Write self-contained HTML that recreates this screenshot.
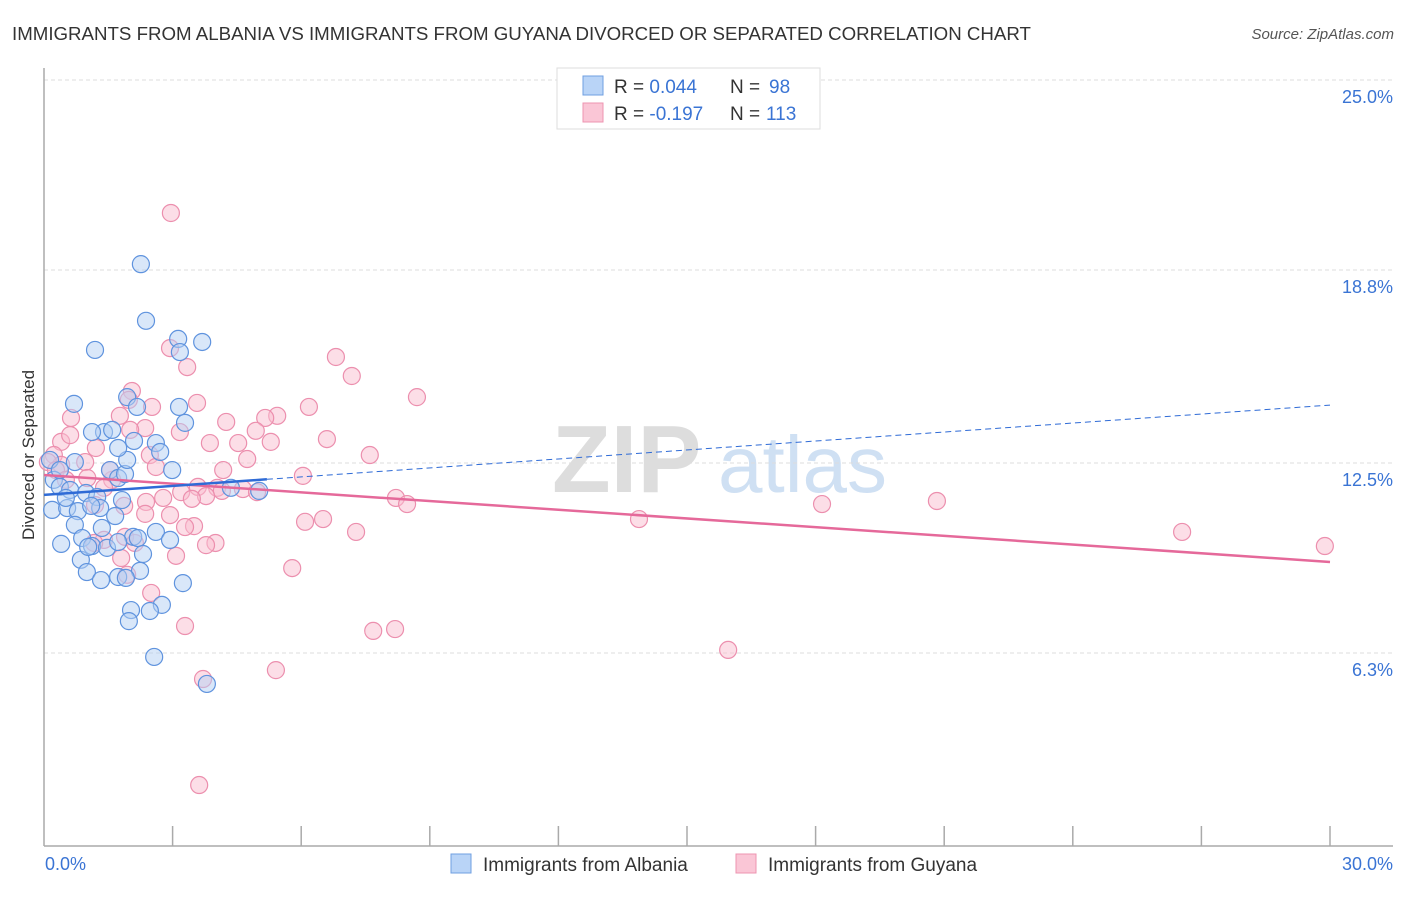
<!DOCTYPE html>
<html><head><meta charset="utf-8">
<style>
body{margin:0;background:#fff;font-family:"Liberation Sans",sans-serif;}
svg text{font-family:"Liberation Sans",sans-serif;}
</style></head>
<body>
<svg id="chart" width="1406" height="892" xmlns="http://www.w3.org/2000/svg">
<text x="12" y="40" font-size="18.7" fill="#333">IMMIGRANTS FROM ALBANIA VS IMMIGRANTS FROM GUYANA DIVORCED OR SEPARATED CORRELATION CHART</text>
<text x="1394" y="39" font-size="15" fill="#555" text-anchor="end" font-style="italic">Source: ZipAtlas.com</text>
<g>
<text x="552" y="492" font-size="96" fill="#ddd" font-family="Liberation Serif" font-weight="bold">ZIP</text>
<text x="718" y="492" font-size="80" fill="#cfe0f3">atlas</text>
</g>
<g id="grid"></g>
<g id="axes"></g>
<g id="pts"></g>
<g id="lines"></g>
<text transform="translate(34,455) rotate(-90)" font-size="17" fill="#333" text-anchor="middle">Divorced or Separated</text>
<g>
<rect x="557" y="68" width="263" height="61" fill="#fff" stroke="#ddd"/>
<rect x="583" y="76" width="20" height="19" fill="#b9d4f7" stroke="#6f9fe0"/>
<rect x="583" y="103" width="20" height="19" fill="#fac6d6" stroke="#ee94b0"/>
<text x="614" y="93" font-size="19" fill="#333">R = <tspan fill="#3a74d4">0.044</tspan></text>
<text x="730" y="93" font-size="19" fill="#333">N =</text>
<text x="769" y="93" font-size="19" fill="#3a74d4">98</text>
<text x="614" y="120" font-size="19" fill="#333">R = <tspan fill="#3a74d4">-0.197</tspan></text>
<text x="730" y="120" font-size="19" fill="#333">N =</text>
<text x="766" y="120" font-size="19" fill="#3a74d4">113</text>
</g>
<g>
<rect x="451" y="854" width="20" height="19" fill="#b9d4f7" stroke="#6f9fe0"/>
<text x="483" y="871" font-size="19" fill="#333">Immigrants from Albania</text>
<rect x="736" y="854" width="20" height="19" fill="#fac6d6" stroke="#ee94b0"/>
<text x="768" y="871" font-size="19" fill="#333">Immigrants from Guyana</text>
</g>
</svg>
<script>
const yTicks=[6.3,12.5,18.8,25.0];
const xTickLabels=["0.0%","30.0%"];
const blueX=[2.26,2.38,1.19,3.13,3.69,3.17,1.94,0.70,2.17,3.15,3.29,1.40,1.12,1.59,2.10,2.61,2.71,0.72,0.14,2.99,1.54,1.73,1.89,0.23,0.37,0.61,0.98,1.24,1.82,4.36,5.02,0.19,0.54,0.79,1.31,1.66,0.72,1.35,2.61,2.08,2.19,0.89,0.40,1.12,1.47,1.73,2.31,0.86,1.00,2.24,1.73,1.91,1.33,3.24,2.03,2.75,2.47,1.98,2.57,3.80,1.03,1.94,1.73,0.37,0.51,1.10,2.94];
const blueY=[18.99,17.14,16.19,16.55,16.45,16.12,14.65,14.43,14.33,14.33,13.81,13.51,13.51,13.58,13.22,13.15,12.86,12.53,12.60,12.27,12.27,12.01,12.14,11.95,11.72,11.62,11.52,11.39,11.29,11.69,11.59,10.97,11.03,10.93,11.03,10.77,10.48,10.38,10.25,10.09,10.05,10.05,9.86,9.79,9.73,9.92,9.53,9.34,8.94,8.98,8.78,8.75,8.68,8.58,7.70,7.87,7.67,7.34,6.17,5.29,9.76,12.60,12.99,12.27,11.36,11.10,9.99];
const pinkX=[2.96,2.94,6.81,7.18,3.34,8.70,2.05,1.98,2.52,3.57,6.18,5.44,5.16,4.25,0.63,1.77,3.17,2.36,4.94,6.60,4.53,3.87,5.29,0.40,0.61,1.21,2.47,7.60,4.74,2.61,4.18,0.23,0.40,0.96,6.04,1.01,1.59,3.59,4.04,4.64,4.97,4.15,3.20,3.78,3.45,2.78,2.38,8.21,8.47,1.87,1.19,6.09,6.51,7.28,2.94,2.36,3.50,3.29,13.88,18.15,20.83,26.55,29.88,1.89,1.40,1.17,2.12,4.00,3.78,1.80,3.08,5.79,1.94,2.50,3.29,7.68,8.19,15.96,5.41,3.71,3.62,0.09,0.28,0.51,1.40,2.01,1.54];
const pinkY=[20.66,16.25,15.96,15.34,15.63,14.65,14.85,14.56,14.33,14.46,14.33,14.04,13.97,13.84,13.97,14.04,13.51,13.64,13.55,13.28,13.15,13.15,13.19,13.19,13.41,12.99,12.76,12.76,12.63,12.37,12.27,12.76,12.44,12.53,12.08,12.01,11.95,11.72,11.69,11.65,11.55,11.59,11.55,11.42,11.33,11.36,11.23,11.36,11.16,11.10,11.13,10.58,10.67,10.25,10.80,10.84,10.44,10.41,10.67,11.16,11.26,10.25,9.79,10.09,9.99,9.89,9.89,9.89,9.82,9.40,9.47,9.07,8.85,8.26,7.18,7.02,7.08,6.40,5.74,5.45,1.99,12.53,12.27,11.95,11.69,13.58,12.27];
const blueTrend=[11.46,14.39];
const pinkTrend=[12.11,9.27];
const NS="http://www.w3.org/2000/svg";
const X=v=>44+v/30*1286;
const Y=v=>846-v/25*766;
function mk(tag,attrs,parent){const e=document.createElementNS(NS,tag);for(const k in attrs)e.setAttribute(k,attrs[k]);parent.appendChild(e);return e;}
const grid=document.getElementById('grid'),axes=document.getElementById('axes'),pts=document.getElementById('pts'),lines=document.getElementById('lines');
yTicks.forEach(t=>{
 const l=mk('line',{x1:44,x2:1393,y1:Y(t),y2:Y(t),stroke:'#ddd','stroke-dasharray':'4,3'},grid);
 
 
 const tx=mk('text',{x:1393,y:Y(t)+23,'font-size':18,fill:'#3a74d4','text-anchor':'end'},axes);
 tx.textContent=t.toFixed(1)+'%';
 
 
});
mk('line',{x1:44,x2:44,y1:68,y2:846,stroke:'#aaa','stroke-width':1.5},axes);
mk('line',{x1:44,x2:1393,y1:846,y2:846,stroke:'#aaa','stroke-width':1.5},axes);
for(let i=1;i<=10;i++){const t=mk('line',{x1:X(i*3),x2:X(i*3),y1:826,y2:846,stroke:'#aaa','stroke-width':1.5},axes);
 
 }
[[0,'start',45],[30,'end',1393]].forEach((d,i)=>{const t=mk('text',{x:d[2],y:870,'font-size':18,fill:'#3a74d4','text-anchor':d[1]},axes);t.textContent=xTickLabels[i];
 
 });
function dots(xs,ys,fill,stroke,name){xs.forEach((x,i)=>{const c=mk('circle',{cx:X(x),cy:Y(ys[i]),r:8.5,fill:fill,'fill-opacity':0.5,stroke:stroke,'stroke-width':1.2},pts);
 
 });}
dots(pinkX,pinkY,'#f9bdd0','#ec8fae','guyana-point');
dots(blueX,blueY,'#b3cff3','#5f93de','albania-point');
const pl=mk('line',{x1:X(0),y1:Y(pinkTrend[0]),x2:X(30),y2:Y(pinkTrend[1]),stroke:'#e5699a','stroke-width':2.5},lines);


const bs=blueTrend[0]+(blueTrend[1]-blueTrend[0])*5.2/30;
const bl=mk('line',{x1:X(0),y1:Y(blueTrend[0]),x2:X(5.2),y2:Y(bs),stroke:'#2f6bd6','stroke-width':2.5},lines);


const bd=mk('line',{x1:X(5.2),y1:Y(bs),x2:X(30),y2:Y(blueTrend[1]),stroke:'#2f6bd6','stroke-width':1,'stroke-dasharray':'6,4'},lines);


</script>
</body></html>
